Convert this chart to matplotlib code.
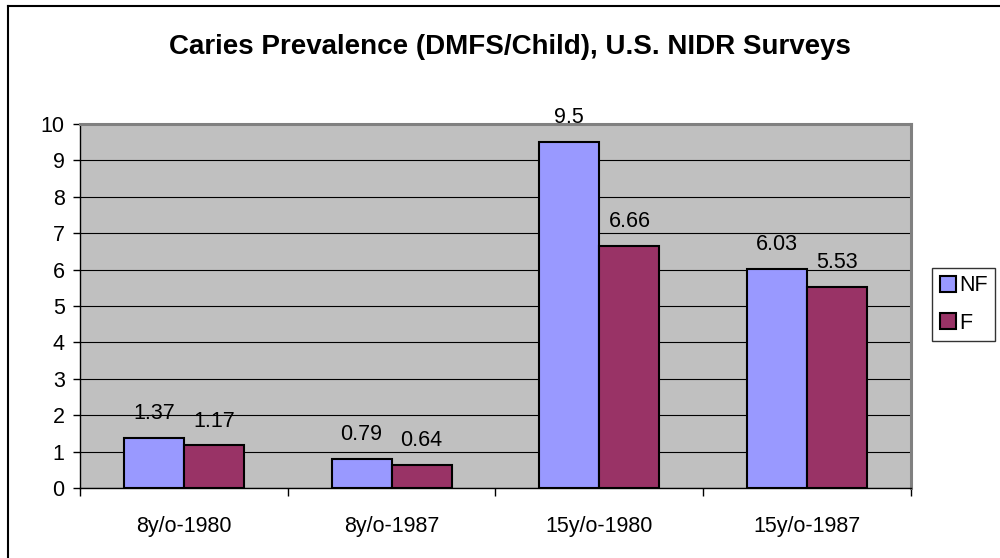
import matplotlib
matplotlib.use("Agg")
import matplotlib.pyplot as plt
from matplotlib.patches import Patch
from matplotlib.lines import Line2D
import numpy as np

categories = ["8y/o-1980", "8y/o-1987", "15y/o-1980", "15y/o-1987"]
nf_values = [1.37, 0.79, 9.5, 6.03]
f_values = [1.17, 0.64, 6.66, 5.53]
nf_labels = ["1.37", "0.79", "9.5", "6.03"]
f_labels = ["1.17", "0.64", "6.66", "5.53"]
series_names = ["NF", "F"]
yticks = list(range(0, 11))

plt.rcParams['font.family'] = ['Liberation Sans', 'DejaVu Sans']

fig = plt.figure(figsize=(10, 5.58), dpi=100)
ax = fig.add_axes([0.08, 1 - 488/558, 0.831, (488 - 124)/558])
ax.set_facecolor('#C0C0C0')

x = np.arange(len(categories))
w = 0.289
nf_col = '#9999FF'
f_col = '#993366'
fs = 15.5
ax.bar(x - w/2, nf_values, w, color=nf_col, edgecolor='black', linewidth=1.5, zorder=3)
ax.bar(x + w/2, f_values, w, color=f_col, edgecolor='black', linewidth=1.5, zorder=3)

for xi, v, s in zip(x - w/2, nf_values, nf_labels):
    ax.annotate(s, (xi, v), xytext=(0, 10), textcoords='offset points', ha='center', va='bottom', fontsize=fs, zorder=4)
for xi, v, s in zip(x + w/2, f_values, f_labels):
    ax.annotate(s, (xi, v), xytext=(0, 10), textcoords='offset points', ha='center', va='bottom', fontsize=fs, zorder=4)

ax.set_xlim(-0.5, len(categories) - 0.5)
ax.set_ylim(0, 10)
ax.set_yticks(yticks)
ax.set_yticklabels([str(t) for t in yticks], fontsize=fs)
ax.yaxis.grid(True, color='black', linewidth=0.8, zorder=1)
ax.set_axisbelow(True)
ax.tick_params(axis='y', length=5, width=1, direction='out', pad=6)

ax.set_xticks(x)
ax.set_xticklabels(categories, fontsize=fs)
ax.tick_params(axis='x', which='major', length=0, pad=20)
ax.set_xticks(np.arange(-0.5, len(categories)), minor=True)
ax.tick_params(axis='x', which='minor', length=6, width=1, direction='out')

for side in ['top', 'right']:
    ax.spines[side].set_color('#808080')
    ax.spines[side].set_linewidth(2.2)
for side in ['left', 'bottom']:
    ax.spines[side].set_color('black')
    ax.spines[side].set_linewidth(1)

fig.text(0.51, 1 - 47/558, "Caries Prevalence (DMFS/Child), U.S. NIDR Surveys",
         ha='center', va='center', fontsize=20, fontweight='bold')

handles = [Patch(facecolor=nf_col, edgecolor='black', linewidth=1.5),
           Patch(facecolor=f_col, edgecolor='black', linewidth=1.5)]
leg = fig.legend(handles, series_names, loc='center left', bbox_to_anchor=(0.932, 1 - 304.5/558),
                 fontsize=fs, frameon=True, fancybox=False, edgecolor='black',
                 handlelength=0.75, handleheight=0.75, handletextpad=0.15,
                 borderpad=0.35, labelspacing=0.75, borderaxespad=0)
leg.get_frame().set_linewidth(1)

# outer chart border (partially visible)
fig.add_artist(Line2D([8/1000, 8/1000], [0, 1 - 6/558], color='black', linewidth=1.5, transform=fig.transFigure))
fig.add_artist(Line2D([8/1000, 1], [1 - 6/558, 1 - 6/558], color='black', linewidth=1.5, transform=fig.transFigure))

fig.savefig("out.png", dpi=100)
